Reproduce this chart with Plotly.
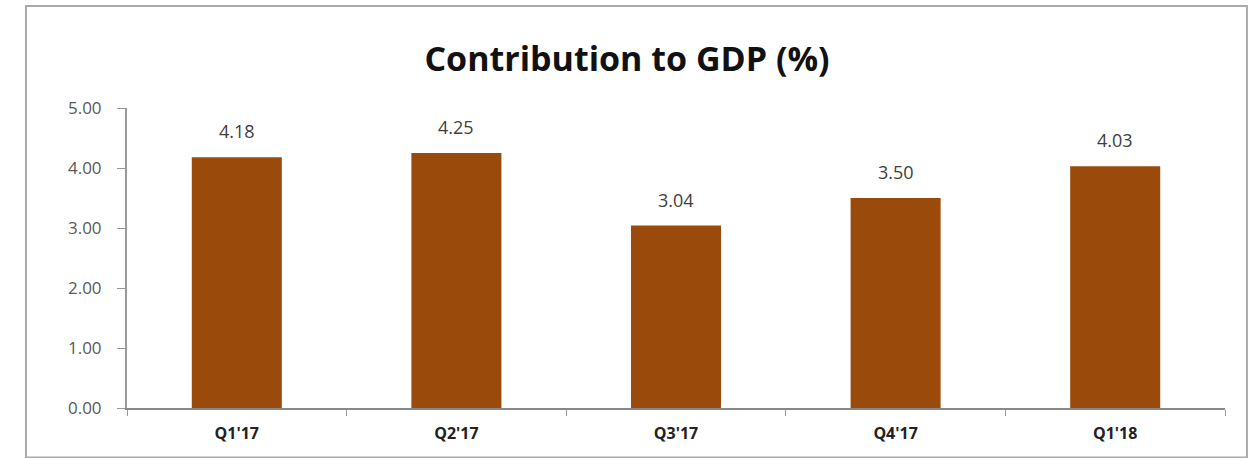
import plotly.graph_objects as go

categories = ["Q1'17", "Q2'17", "Q3'17", "Q4'17", "Q1'18"]
values = [4.18, 4.25, 3.04, 3.50, 4.03]
y_ticks = [0, 1, 2, 3, 4, 5]
y_tick_labels = ["0.00", "1.00", "2.00", "3.00", "4.00", "5.00"]

FONT = "Open Sans, Liberation Sans, sans-serif"

fig = go.Figure(go.Bar(
    x=categories, y=values,
    marker=dict(color="#9A4A0B", line=dict(width=0)),
))

for c, v in zip(categories, values):
    fig.add_annotation(x=c, y=v, text=f"{v:.2f}", showarrow=False,
                       yanchor="bottom", yshift=12,
                       font=dict(family=FONT, size=18, color="#404040"))

fig.update_layout(
    width=1254, height=458,
    margin=dict(l=127, r=29, t=108, b=50),
    paper_bgcolor="white", plot_bgcolor="white",
    bargap=0.59,
    showlegend=False,
    title=dict(text="<b>Contribution to GDP (%)</b>", x=0.5, xanchor="center",
               y=0.87, yanchor="middle",
               font=dict(family=FONT, size=34, color="#111111")),
    xaxis=dict(showline=True, linecolor="#888888", linewidth=2, ticks="outside",
               tickson="boundaries", ticklen=6, tickcolor="#999999",
               ticklabelstandoff=10,
               tickfont=dict(family=FONT, size=16, color="#222222", weight="bold"),
               showgrid=False),
    yaxis=dict(range=[0, 5], tickvals=y_ticks, ticktext=y_tick_labels,
               showline=True, linecolor="#999999", linewidth=2, ticks="outside",
               ticklen=8, tickcolor="#999999", showgrid=False, zeroline=False,
               tickfont=dict(family=FONT, size=17, color="#595959"),
               ticklabelstandoff=12),
    shapes=[dict(type="rect", xref="paper", yref="paper",
                 x0=-0.092, x1=1.02, y0=-0.165, y1=1.34,
                 line=dict(color="#AAAAAA", width=2), fillcolor="rgba(0,0,0,0)")],
)

fig.write_html("out.html")
